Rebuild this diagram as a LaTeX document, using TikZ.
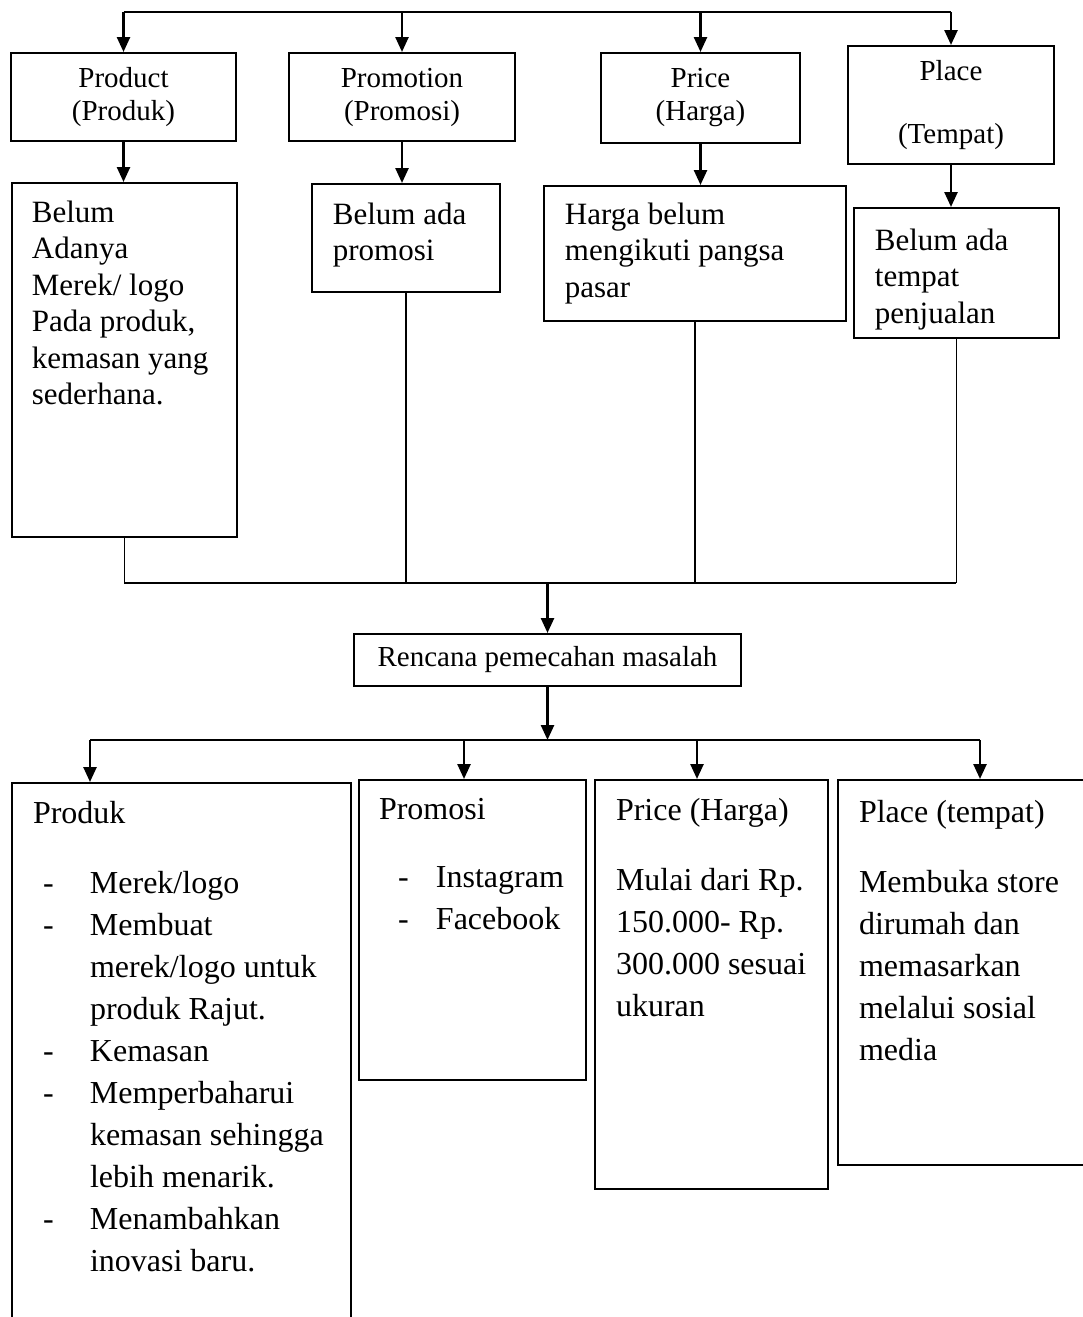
\documentclass[tikz,border=0pt]{standalone}
\usepackage{fontspec}
\setmainfont{Liberation Serif}
\usetikzlibrary{arrows.meta}

\newcommand{\cellbox}[4]{\parbox[t][#1][t]{#2}{\raggedright\vspace*{#3}#4}}
\newcommand{\li}[1]{\hspace*{#1}\makebox[\dimexpr57pt-#1\relax][l]{-}}
\newcommand{\lc}{\hspace*{57pt}}

\begin{document}
\begin{tikzpicture}[
      x=1pt, y=-1pt,
      head/.style={
          draw,
          line width=2pt,
          inner sep=0pt,
          align=center,
          font=\fontsize{29}{33}\selectfont
        },
      info/.style={
          draw,
          line width=1.8pt,
          anchor=north west,
          inner xsep=20pt,
          inner ysep=0pt,
          font=\fontsize{31}{36.4}\selectfont
        },
      plan/.style={
          draw,
          line width=2pt,
          anchor=north west,
          inner xsep=21pt,
          inner ysep=0pt,
          font=\fontsize{32}{42}\selectfont
        },
      bus/.style={line width=2.5pt},
      link/.style={line width=1.5pt},
      >={Triangle[width=13pt,length=15pt]}
    ]
    \useasboundingbox (0,0) rectangle (1082,1317);

    % marketing mix heads
    \node[head, minimum width=225pt, minimum height=88pt] (hProd) at (123.5,97) {Product\\(Produk)};
    \node[head, minimum width=226pt, minimum height=88pt] (hProm) at (402,97) {Promotion\\(Promosi)};
    \node[head, minimum width=199pt, minimum height=90pt] (hPrice) at (700.5,98) {Price\\(Harga)};
    \node[head, minimum width=206pt, minimum height=118pt] (hPlace) at (951,105) {Place\\[30pt](Tempat)};

    % problems
    \node[info] (dProd) at (11,182) {\cellbox{354pt}{185pt}{18pt}{Belum\\Adanya\\Merek/ logo\\Pada produk,\\kemasan yang\\sederhana.}};
    \node[info, inner xsep=21pt] (dProm) at (311,183) {\cellbox{108pt}{146pt}{19pt}{Belum ada\\promosi}};
    \node[info, inner xsep=21pt] (dPrice) at (543,185) {\cellbox{135pt}{260pt}{17pt}{Harga belum\\mengikuti pangsa\\pasar}};
    \node[info, inner xsep=21pt] (dPlace) at (853,207) {\cellbox{130pt}{163pt}{21pt}{Belum ada\\tempat\\penjualan}};

    \node[head, minimum width=387pt, minimum height=52pt] (ren) at (547.5,660) {Rencana pemecahan masalah};

    % solutions
    \node[plan] (bProd) at (11,782) {\cellbox{560pt}{297pt}{18pt}{Produk\\[28pt]
        \li{10pt}Merek/logo\\
        \li{10pt}Membuat\\
        \lc merek/logo untuk\\
        \lc produk Rajut.\\
        \li{10pt}Kemasan\\
        \li{10pt}Memperbaharui\\
        \lc kemasan sehingga\\
        \lc lebih menarik.\\
        \li{10pt}Menambahkan\\
        \lc inovasi baru.}};
    \node[plan, inner xsep=20pt] (bProm) at (358,779) {\cellbox{300pt}{187pt}{18pt}{Promosi\\[26pt]
        \li{19pt}Instagram\\
        \li{19pt}Facebook}};
    \node[plan] (bPrice) at (594,779) {\cellbox{409pt}{191pt}{18pt}{Price (Harga)\\[28pt]Mulai dari Rp.\\150.000- Rp.\\300.000 sesuai\\ukuran}};
    \node[plan] (bPlace) at (837,779) {\cellbox{385pt}{211pt}{20pt}{Place (tempat)\\[28pt]Membuka store\\dirumah dan\\memasarkan\\melalui sosial\\media}};

    \coordinate (top) at (0,12);
    \coordinate (mid) at (0,583);
    \coordinate (l1) at (90,740);
    \coordinate (l2) at (464,740);
    \coordinate (l3) at (697,740);
    \coordinate (l4) at (980,740);

    \draw[bus] (hProd.north |- top) -- (hPlace.north |- top);
    \foreach \h in {hProd,hProm,hPrice,hPlace}
    \draw[bus,->] (\h.north |- top) -- (\h.north);
    \foreach \h/\d in {hProd/dProd,hProm/dProm,hPrice/dPrice,hPlace/dPlace}
    \draw[bus,->] (\h.south) -- (\h.south |- \d.north);
    \foreach \d in {dProd,dProm,dPrice,dPlace}
    \draw[link] (\d.south) -- (\d.south |- mid);
    \draw[bus] (dProd.south |- mid) -- (dPlace.south |- mid);
    \draw[bus,->] (ren.north |- mid) -- (ren.north);
    \draw[bus,->] (ren.south) -- (ren.south |- l1);
    \draw[bus] (l1) -- (l4);
    \foreach \c/\b in {l1/bProd,l2/bProm,l3/bPrice,l4/bPlace}
    \draw[bus,->] (\c) -- (\c |- \b.north);
  \end{tikzpicture}
\end{document}
